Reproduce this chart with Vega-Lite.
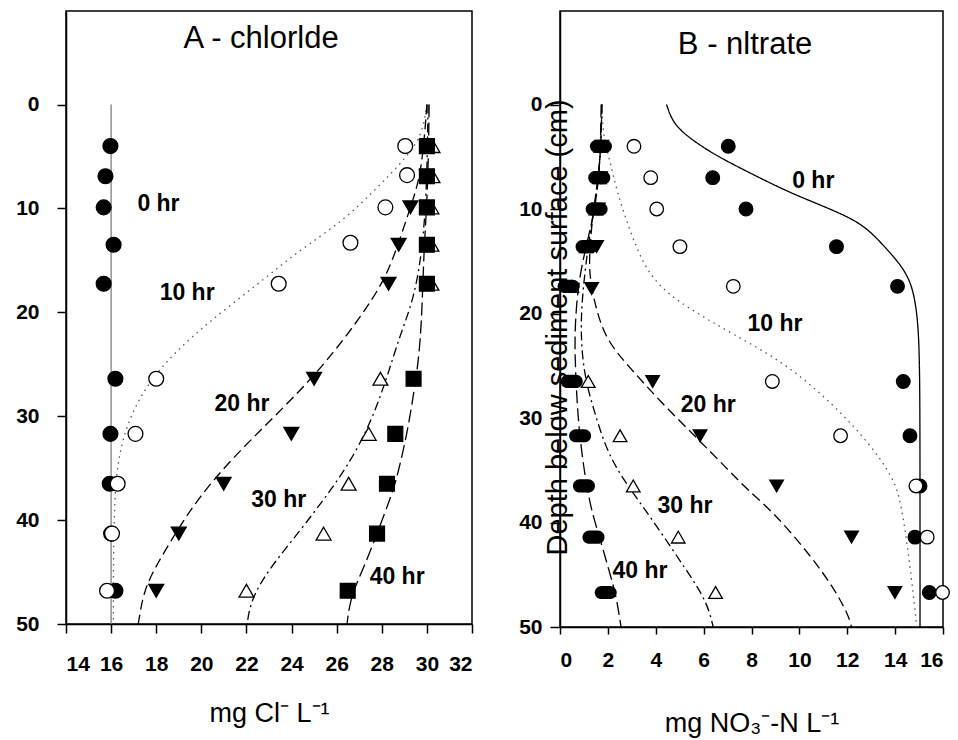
{
  "$schema": "https://vega.github.io/schema/vega-lite/v6.json",
  "background": "white",
  "padding": {"left": 14, "top": 10, "right": 5, "bottom": 5},
  "config": {
    "font": "Liberation Sans",
    "view": {"stroke": "black", "strokeWidth": 1.5},
    "axis": {"domainColor": "black", "domainWidth": 1.5, "tickColor": "black", "tickWidth": 1.5, "labelColor": "black", "titleColor": "black", "labelFont": "Liberation Sans", "labelFontWeight": "bold", "labelFontSize": 21, "titleFont": "Liberation Sans", "titleFontWeight": "normal", "grid": false}
  },
  "datasets": {
    "curvesA": [
      {"s": "0 hr", "x": 16.0, "d": 0}, {"s": "0 hr", "x": 16.0, "d": 50},
      {"s": "10 hr", "x": 30.0, "d": 0}, {"s": "10 hr", "x": 29.8, "d": 2.9}, {"s": "10 hr", "x": 29.1, "d": 5.1}, {"s": "10 hr", "x": 27.8, "d": 8.0}, {"s": "10 hr", "x": 26.3, "d": 11.2}, {"s": "10 hr", "x": 24.3, "d": 14.1}, {"s": "10 hr", "x": 22.5, "d": 17.3}, {"s": "10 hr", "x": 20.4, "d": 20.8}, {"s": "10 hr", "x": 18.9, "d": 23.7}, {"s": "10 hr", "x": 17.7, "d": 26.6}, {"s": "10 hr", "x": 16.8, "d": 30.1}, {"s": "10 hr", "x": 16.3, "d": 34}, {"s": "10 hr", "x": 16.15, "d": 38}, {"s": "10 hr", "x": 16.1, "d": 44}, {"s": "10 hr", "x": 16.1, "d": 50},
      {"s": "20 hr", "x": 30.0, "d": 0}, {"s": "20 hr", "x": 29.9, "d": 3}, {"s": "20 hr", "x": 29.7, "d": 7.06}, {"s": "20 hr", "x": 29.27, "d": 9.9}, {"s": "20 hr", "x": 28.68, "d": 13.8}, {"s": "20 hr", "x": 28.1, "d": 17}, {"s": "20 hr", "x": 27.05, "d": 20.5}, {"s": "20 hr", "x": 25.57, "d": 24.7}, {"s": "20 hr", "x": 24.09, "d": 28.2}, {"s": "20 hr", "x": 22.6, "d": 31.4}, {"s": "20 hr", "x": 21.14, "d": 34.6}, {"s": "20 hr", "x": 19.8, "d": 38.1}, {"s": "20 hr", "x": 18.93, "d": 41.0}, {"s": "20 hr", "x": 18.04, "d": 44.2}, {"s": "20 hr", "x": 17.44, "d": 46.8}, {"s": "20 hr", "x": 17.22, "d": 49.8}, {"s": "20 hr", "x": 17.2, "d": 50},
      {"s": "30 hr", "x": 30.05, "d": 0}, {"s": "30 hr", "x": 30.0, "d": 8}, {"s": "30 hr", "x": 29.8, "d": 14.1}, {"s": "30 hr", "x": 29.4, "d": 18.9}, {"s": "30 hr", "x": 28.82, "d": 22.1}, {"s": "30 hr", "x": 28.23, "d": 26.3}, {"s": "30 hr", "x": 27.49, "d": 30.8}, {"s": "30 hr", "x": 26.46, "d": 34.9}, {"s": "30 hr", "x": 25.5, "d": 37.8}, {"s": "30 hr", "x": 24.39, "d": 41.0}, {"s": "30 hr", "x": 22.92, "d": 44.9}, {"s": "30 hr", "x": 22.18, "d": 47.8}, {"s": "30 hr", "x": 22.03, "d": 50},
      {"s": "40 hr", "x": 30.1, "d": 0}, {"s": "40 hr", "x": 30.05, "d": 8}, {"s": "40 hr", "x": 29.86, "d": 14.1}, {"s": "40 hr", "x": 29.78, "d": 20.5}, {"s": "40 hr", "x": 29.63, "d": 24.7}, {"s": "40 hr", "x": 29.41, "d": 27.9}, {"s": "40 hr", "x": 29.12, "d": 31.7}, {"s": "40 hr", "x": 28.68, "d": 35.9}, {"s": "40 hr", "x": 28.38, "d": 37.9}, {"s": "40 hr", "x": 27.79, "d": 41.3}, {"s": "40 hr", "x": 27.2, "d": 44.6}, {"s": "40 hr", "x": 26.61, "d": 47.4}, {"s": "40 hr", "x": 26.46, "d": 50}
    ],
    "pointsA": [
      {"s": "0 hr", "x": 15.97, "d": 4}, {"s": "0 hr", "x": 15.75, "d": 6.9}, {"s": "0 hr", "x": 15.67, "d": 9.9}, {"s": "0 hr", "x": 16.11, "d": 13.5}, {"s": "0 hr", "x": 15.67, "d": 17.25}, {"s": "0 hr", "x": 16.19, "d": 26.4}, {"s": "0 hr", "x": 15.97, "d": 31.7}, {"s": "0 hr", "x": 15.94, "d": 36.5}, {"s": "0 hr", "x": 16.0, "d": 41.3}, {"s": "0 hr", "x": 16.19, "d": 46.8},
      {"s": "10 hr", "x": 29.04, "d": 4}, {"s": "10 hr", "x": 29.12, "d": 6.8}, {"s": "10 hr", "x": 28.16, "d": 9.9}, {"s": "10 hr", "x": 26.61, "d": 13.3}, {"s": "10 hr", "x": 23.43, "d": 17.25}, {"s": "10 hr", "x": 18.0, "d": 26.4}, {"s": "10 hr", "x": 17.08, "d": 31.7}, {"s": "10 hr", "x": 16.29, "d": 36.5}, {"s": "10 hr", "x": 16.04, "d": 41.3}, {"s": "10 hr", "x": 15.82, "d": 46.8},
      {"s": "20 hr", "x": 30.0, "d": 4}, {"s": "20 hr", "x": 30.0, "d": 6.9}, {"s": "20 hr", "x": 29.27, "d": 9.9}, {"s": "20 hr", "x": 28.75, "d": 13.5}, {"s": "20 hr", "x": 28.3, "d": 17.25}, {"s": "20 hr", "x": 25.0, "d": 26.4}, {"s": "20 hr", "x": 23.99, "d": 31.7}, {"s": "20 hr", "x": 20.99, "d": 36.5}, {"s": "20 hr", "x": 19.0, "d": 41.3}, {"s": "20 hr", "x": 18.0, "d": 46.8},
      {"s": "30 hr", "x": 30.25, "d": 4}, {"s": "30 hr", "x": 30.25, "d": 6.9}, {"s": "30 hr", "x": 30.2, "d": 9.9}, {"s": "30 hr", "x": 30.2, "d": 13.5}, {"s": "30 hr", "x": 30.2, "d": 17.25}, {"s": "30 hr", "x": 27.94, "d": 26.4}, {"s": "30 hr", "x": 27.42, "d": 31.7}, {"s": "30 hr", "x": 26.53, "d": 36.5}, {"s": "30 hr", "x": 25.42, "d": 41.3}, {"s": "30 hr", "x": 22.0, "d": 46.8},
      {"s": "40 hr", "x": 30.0, "d": 4}, {"s": "40 hr", "x": 30.0, "d": 6.9}, {"s": "40 hr", "x": 30.0, "d": 9.9}, {"s": "40 hr", "x": 30.0, "d": 13.5}, {"s": "40 hr", "x": 30.0, "d": 17.25}, {"s": "40 hr", "x": 29.41, "d": 26.4}, {"s": "40 hr", "x": 28.6, "d": 31.7}, {"s": "40 hr", "x": 28.23, "d": 36.5}, {"s": "40 hr", "x": 27.79, "d": 41.3}, {"s": "40 hr", "x": 26.49, "d": 46.8}
    ],
    "labelsA": [
      {"t": "0 hr", "x": 18.1, "d": 9.6},
      {"t": "10 hr", "x": 19.37, "d": 18.1},
      {"t": "20 hr", "x": 21.8, "d": 28.8},
      {"t": "30 hr", "x": 23.43, "d": 38.1},
      {"t": "40 hr", "x": 28.68, "d": 45.5}
    ],
    "titleA": [{"t": "A - chlorlde", "x": 22.65, "d": -5.47}],
    "curvesB": [
      {"s": "0 hr", "x": 4.45, "d": 0}, {"s": "0 hr", "x": 4.73, "d": 1.9}, {"s": "0 hr", "x": 5.57, "d": 3.5}, {"s": "0 hr", "x": 6.68, "d": 5.1}, {"s": "0 hr", "x": 8.07, "d": 6.7}, {"s": "0 hr", "x": 9.47, "d": 8.3}, {"s": "0 hr", "x": 10.86, "d": 9.6}, {"s": "0 hr", "x": 12.2, "d": 10.9}, {"s": "0 hr", "x": 12.95, "d": 12.1}, {"s": "0 hr", "x": 13.6, "d": 13.7}, {"s": "0 hr", "x": 14.3, "d": 15.5}, {"s": "0 hr", "x": 14.76, "d": 17.5}, {"s": "0 hr", "x": 14.97, "d": 21}, {"s": "0 hr", "x": 15.02, "d": 25}, {"s": "0 hr", "x": 15.04, "d": 30}, {"s": "0 hr", "x": 15.04, "d": 50},
      {"s": "10 hr", "x": 1.75, "d": 0}, {"s": "10 hr", "x": 1.8, "d": 3}, {"s": "10 hr", "x": 2.09, "d": 5.4}, {"s": "10 hr", "x": 2.37, "d": 8.3}, {"s": "10 hr", "x": 2.92, "d": 12.1}, {"s": "10 hr", "x": 3.48, "d": 15.3}, {"s": "10 hr", "x": 4.18, "d": 17.5}, {"s": "10 hr", "x": 5.29, "d": 19.4}, {"s": "10 hr", "x": 7.24, "d": 22}, {"s": "10 hr", "x": 9.47, "d": 24.8}, {"s": "10 hr", "x": 11.55, "d": 29}, {"s": "10 hr", "x": 12.95, "d": 32.5}, {"s": "10 hr", "x": 13.92, "d": 35.7}, {"s": "10 hr", "x": 14.25, "d": 38}, {"s": "10 hr", "x": 14.62, "d": 44}, {"s": "10 hr", "x": 14.88, "d": 49.4}, {"s": "10 hr", "x": 14.9, "d": 50},
      {"s": "20 hr", "x": 1.75, "d": 0}, {"s": "20 hr", "x": 1.7, "d": 5}, {"s": "20 hr", "x": 1.53, "d": 8}, {"s": "20 hr", "x": 1.32, "d": 11.5}, {"s": "20 hr", "x": 1.22, "d": 14.7}, {"s": "20 hr", "x": 1.25, "d": 16.8}, {"s": "20 hr", "x": 1.53, "d": 19.8}, {"s": "20 hr", "x": 1.95, "d": 22.6}, {"s": "20 hr", "x": 2.92, "d": 25.2}, {"s": "20 hr", "x": 4.18, "d": 28.4}, {"s": "20 hr", "x": 5.71, "d": 31.9}, {"s": "20 hr", "x": 6.96, "d": 34.8}, {"s": "20 hr", "x": 7.8, "d": 36.8}, {"s": "20 hr", "x": 9.0, "d": 39.2}, {"s": "20 hr", "x": 10.44, "d": 43.1}, {"s": "20 hr", "x": 11.42, "d": 46.2}, {"s": "20 hr", "x": 12.04, "d": 48.8}, {"s": "20 hr", "x": 12.18, "d": 50},
      {"s": "30 hr", "x": 1.75, "d": 0}, {"s": "30 hr", "x": 1.7, "d": 5}, {"s": "30 hr", "x": 1.5, "d": 9}, {"s": "30 hr", "x": 1.2, "d": 13}, {"s": "30 hr", "x": 0.95, "d": 17.8}, {"s": "30 hr", "x": 0.87, "d": 21}, {"s": "30 hr", "x": 0.92, "d": 24}, {"s": "30 hr", "x": 1.11, "d": 26.8}, {"s": "30 hr", "x": 1.39, "d": 29}, {"s": "30 hr", "x": 1.85, "d": 32.5}, {"s": "30 hr", "x": 2.4, "d": 35}, {"s": "30 hr", "x": 3.0, "d": 37}, {"s": "30 hr", "x": 4.18, "d": 40.8}, {"s": "30 hr", "x": 5.29, "d": 44.6}, {"s": "30 hr", "x": 6.13, "d": 47.5}, {"s": "30 hr", "x": 6.4, "d": 50},
      {"s": "40 hr", "x": 1.72, "d": 0}, {"s": "40 hr", "x": 1.67, "d": 6.7}, {"s": "40 hr", "x": 1.39, "d": 10.8}, {"s": "40 hr", "x": 1.04, "d": 14}, {"s": "40 hr", "x": 0.76, "d": 17.2}, {"s": "40 hr", "x": 0.63, "d": 21}, {"s": "40 hr", "x": 0.62, "d": 24}, {"s": "40 hr", "x": 0.7, "d": 28}, {"s": "40 hr", "x": 0.82, "d": 32}, {"s": "40 hr", "x": 1.2, "d": 38}, {"s": "40 hr", "x": 1.6, "d": 41}, {"s": "40 hr", "x": 2.0, "d": 44.2}, {"s": "40 hr", "x": 2.35, "d": 47}, {"s": "40 hr", "x": 2.55, "d": 50}
    ],
    "pointsB": [
      {"s": "0 hr", "x": 7.03, "d": 4}, {"s": "0 hr", "x": 6.38, "d": 7}, {"s": "0 hr", "x": 7.77, "d": 10}, {"s": "0 hr", "x": 11.55, "d": 13.6}, {"s": "0 hr", "x": 14.1, "d": 17.4}, {"s": "0 hr", "x": 14.34, "d": 26.5}, {"s": "0 hr", "x": 14.62, "d": 31.7}, {"s": "0 hr", "x": 15.04, "d": 36.5}, {"s": "0 hr", "x": 14.83, "d": 41.4}, {"s": "0 hr", "x": 15.43, "d": 46.7},
      {"s": "10 hr", "x": 3.09, "d": 4}, {"s": "10 hr", "x": 3.79, "d": 7}, {"s": "10 hr", "x": 4.04, "d": 10}, {"s": "10 hr", "x": 5.01, "d": 13.6}, {"s": "10 hr", "x": 7.24, "d": 17.4}, {"s": "10 hr", "x": 8.87, "d": 26.5}, {"s": "10 hr", "x": 11.72, "d": 31.7}, {"s": "10 hr", "x": 14.87, "d": 36.5}, {"s": "10 hr", "x": 15.34, "d": 41.4}, {"s": "10 hr", "x": 15.98, "d": 46.7},
      {"s": "20 hr", "x": 1.75, "d": 4}, {"s": "20 hr", "x": 1.7, "d": 7}, {"s": "20 hr", "x": 1.6, "d": 10}, {"s": "20 hr", "x": 1.53, "d": 13.6}, {"s": "20 hr", "x": 1.32, "d": 17.6}, {"s": "20 hr", "x": 3.87, "d": 26.5}, {"s": "20 hr", "x": 5.85, "d": 31.7}, {"s": "20 hr", "x": 9.05, "d": 36.5}, {"s": "20 hr", "x": 12.18, "d": 41.4}, {"s": "20 hr", "x": 13.99, "d": 46.7},
      {"s": "30 hr", "x": 1.7, "d": 4}, {"s": "30 hr", "x": 1.65, "d": 7}, {"s": "30 hr", "x": 1.5, "d": 10}, {"s": "30 hr", "x": 1.1, "d": 13.6}, {"s": "30 hr", "x": 0.5, "d": 17.4}, {"s": "30 hr", "x": 1.18, "d": 26.5}, {"s": "30 hr", "x": 2.51, "d": 31.7}, {"s": "30 hr", "x": 3.06, "d": 36.5}, {"s": "30 hr", "x": 4.94, "d": 41.4}, {"s": "30 hr", "x": 6.5, "d": 46.7}
    ],
    "blobsB": [
      {"s": "40 hr", "x": 1.71, "d": 4}, {"s": "40 hr", "x": 1.64, "d": 7}, {"s": "40 hr", "x": 1.53, "d": 10}, {"s": "40 hr", "x": 1.11, "d": 13.6}, {"s": "40 hr", "x": 0.36, "d": 17.4}, {"s": "40 hr", "x": 0.49, "d": 26.5}, {"s": "40 hr", "x": 0.84, "d": 31.7}, {"s": "40 hr", "x": 1.0, "d": 36.5}, {"s": "40 hr", "x": 1.4, "d": 41.4}, {"s": "40 hr", "x": 1.91, "d": 46.7}
    ],
    "labelsB": [
      {"t": "0 hr", "x": 10.58, "d": 7.3},
      {"t": "10 hr", "x": 8.98, "d": 21},
      {"t": "20 hr", "x": 6.19, "d": 28.8},
      {"t": "30 hr", "x": 5.22, "d": 38.4},
      {"t": "40 hr", "x": 3.34, "d": 44.6}
    ],
    "titleB": [{"t": "B - nltrate", "x": 7.73, "d": -4.8}]
  },
  "bounds": "flush",
  "spacing": 88,
  "resolve": {"scale": {"x": "independent", "y": "independent", "shape": "independent", "fill": "independent", "stroke": "independent", "strokeDash": "independent", "size": "independent"}},
  "hconcat": [
    {
      "width": 406,
      "height": 613,
      "encoding": {
        "x": {"field": "x", "type": "quantitative", "scale": {"domain": [14, 32], "nice": false, "zero": false}, "axis": {"values": [14, 16, 18, 20, 22, 24, 26, 28, 30, 32], "tickSize": 9, "labelPadding": 20, "labelBaseline": "top", "labelFontSize": 21, "title": "mg Cl⁻ L⁻¹", "titleFontSize": 27, "titleY": 97, "titleBaseline": "alphabetic"}},
        "y": {"field": "d", "type": "quantitative", "scale": {"domain": [-9, 50], "reverse": true, "nice": false, "zero": false}, "axis": {"values": [0, 10, 20, 30, 40, 50], "tickSize": 9, "labelPadding": 18, "labelFontSize": 21, "title": null}}
      },
      "layer": [
        {
          "data": {"name": "curvesA"},
          "mark": {"type": "line", "interpolate": "basis", "strokeWidth": 1.3},
          "encoding": {
            "order": {"field": "d", "type": "quantitative"},
            "detail": {"field": "s"},
            "stroke": {"field": "s", "type": "nominal", "scale": {"domain": ["0 hr", "10 hr", "20 hr", "30 hr", "40 hr"], "range": ["#808080", "#555555", "black", "black", "black"]}, "legend": null},
            "strokeDash": {"field": "s", "type": "nominal", "scale": {"domain": ["0 hr", "10 hr", "20 hr", "30 hr", "40 hr"], "range": [[1, 0], [1.5, 4.5], [10, 5], [9, 4, 2, 4], [13, 5]]}, "legend": null}
          }
        },
        {
          "data": {"name": "pointsA"},
          "mark": {"type": "point", "opacity": 1, "strokeWidth": 1.3, "stroke": "black", "size": 220},
          "encoding": {
            "shape": {"field": "s", "type": "nominal", "scale": {"domain": ["0 hr", "10 hr", "20 hr", "30 hr", "40 hr"], "range": ["circle", "circle", "triangle-down", "triangle-up", "square"]}, "legend": null},
            "fill": {"field": "s", "type": "nominal", "scale": {"domain": ["0 hr", "10 hr", "20 hr", "30 hr", "40 hr"], "range": ["black", "white", "black", "white", "black"]}, "legend": null}
          }
        },
        {
          "data": {"name": "labelsA"},
          "mark": {"type": "text", "fontWeight": "bold", "fontSize": 23, "align": "center", "baseline": "middle", "color": "black"},
          "encoding": {"text": {"field": "t"}}
        },
        {
          "data": {"name": "titleA"},
          "mark": {"type": "text", "fontSize": 31, "align": "center", "baseline": "alphabetic", "color": "black"},
          "encoding": {"text": {"field": "t"}}
        }
      ]
    },
    {
      "width": 383,
      "height": 616,
      "encoding": {
        "x": {"field": "x", "type": "quantitative", "scale": {"domain": [0, 16], "nice": false, "zero": false}, "axis": {"values": [0, 2, 4, 6, 8, 10, 12, 14, 16], "tickSize": 7, "labelPadding": 15, "labelBaseline": "top", "labelFontSize": 21, "title": "mg NO₃⁻-N L⁻¹", "titleFontSize": 27, "titleY": 104, "titleBaseline": "alphabetic"}},
        "y": {"field": "d", "type": "quantitative", "scale": {"domain": [-8.95, 50], "reverse": true, "nice": false, "zero": false}, "axis": {"values": [0, 10, 20, 30, 40, 50], "tickSize": 10, "labelPadding": 8, "labelFontSize": 21, "title": "Depth below sediment surface (cm)", "titleFontSize": 29, "titleAngle": 270, "titleX": -3, "titleY": 316, "titleAlign": "center", "titleBaseline": "middle"}}
      },
      "layer": [
        {
          "data": {"name": "curvesB"},
          "mark": {"type": "line", "interpolate": "basis", "strokeWidth": 1.3},
          "encoding": {
            "order": {"field": "d", "type": "quantitative"},
            "detail": {"field": "s"},
            "stroke": {"field": "s", "type": "nominal", "scale": {"domain": ["0 hr", "10 hr", "20 hr", "30 hr", "40 hr"], "range": ["black", "#555555", "black", "black", "black"]}, "legend": null},
            "strokeDash": {"field": "s", "type": "nominal", "scale": {"domain": ["0 hr", "10 hr", "20 hr", "30 hr", "40 hr"], "range": [[1, 0], [1.5, 4.5], [10, 5], [9, 4, 2, 4], [13, 5]]}, "legend": null}
          }
        },
        {
          "data": {"name": "pointsB"},
          "mark": {"type": "point", "opacity": 1, "strokeWidth": 1.3, "stroke": "black", "size": 185},
          "encoding": {
            "shape": {"field": "s", "type": "nominal", "scale": {"domain": ["0 hr", "10 hr", "20 hr", "30 hr"], "range": ["circle", "circle", "triangle-down", "triangle-up"]}, "legend": null},
            "fill": {"field": "s", "type": "nominal", "scale": {"domain": ["0 hr", "10 hr", "20 hr", "30 hr"], "range": ["black", "white", "black", "white"]}, "legend": null}
          }
        },
        {
          "data": {"name": "blobsB"},
          "mark": {"type": "point", "opacity": 1, "filled": true, "color": "black", "strokeWidth": 0, "size": 484, "shape": "M-0.4,-0.6L0.4,-0.6C0.73,-0.6,1,-0.33,1,0C1,0.33,0.73,0.6,0.4,0.6L-0.4,0.6C-0.73,0.6,-1,0.33,-1,0C-1,-0.33,-0.73,-0.6,-0.4,-0.6Z"},
          "encoding": {}
        },
        {
          "data": {"name": "labelsB"},
          "mark": {"type": "text", "fontWeight": "bold", "fontSize": 23, "align": "center", "baseline": "middle", "color": "black"},
          "encoding": {"text": {"field": "t"}}
        },
        {
          "data": {"name": "titleB"},
          "mark": {"type": "text", "fontSize": 31, "align": "center", "baseline": "alphabetic", "color": "black"},
          "encoding": {"text": {"field": "t"}}
        }
      ]
    }
  ]
}
